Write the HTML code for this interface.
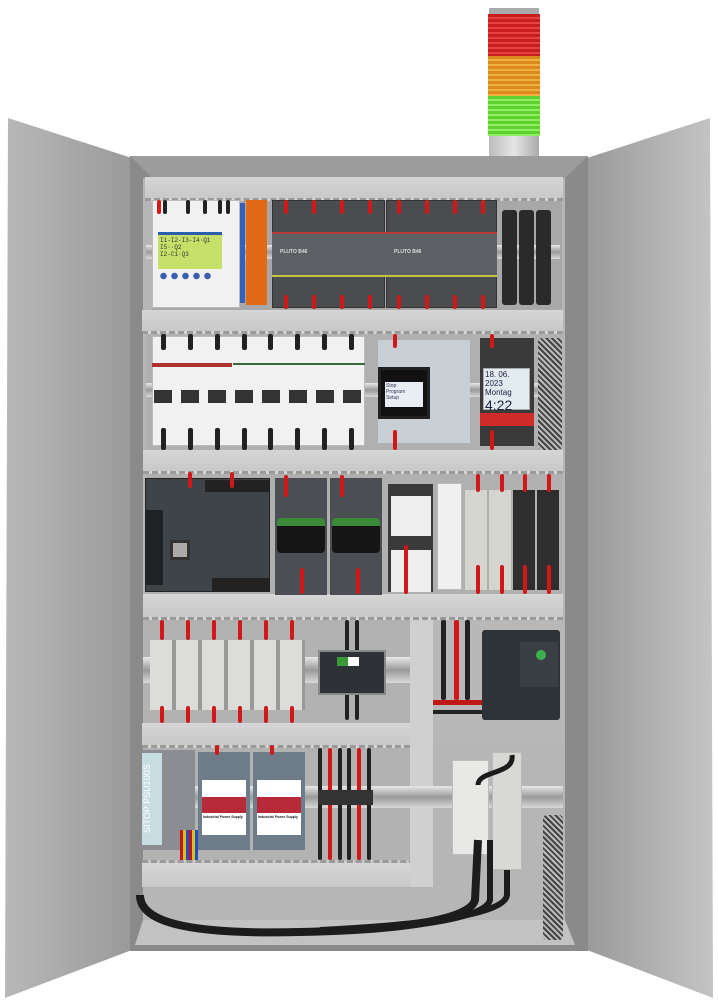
<!DOCTYPE html>
<html><head><meta charset="utf-8"><style>
body{margin:0;background:#fff;width:718px;height:1003px;position:relative;overflow:hidden;font-family:"Liberation Sans",sans-serif}
div{position:absolute;box-sizing:border-box}
.duct{background:linear-gradient(#d6d6d6,#c8c8c8);border-bottom:3px dashed #9a9a9a}
.w{background:#f1f1f1;border:1px solid #bbb}
.rail{background:linear-gradient(#e8e8e8,#9a9a9a,#d8d8d8)}
.cab{background:#222;width:4px;border-radius:2px}
.red{background:#d01818}
</style></head><body>
<!-- signal tower -->
<div style="left:489px;top:8px;width:50px;height:6px;background:#aaa"></div>
<div style="left:488px;top:14px;width:52px;height:42px;background:repeating-linear-gradient(#c81e1e 0 3px,#e84040 3px 5px)"></div>
<div style="left:488px;top:56px;width:52px;height:40px;background:repeating-linear-gradient(#d98a1a 0 3px,#f0b040 3px 5px)"></div>
<div style="left:488px;top:96px;width:52px;height:40px;background:repeating-linear-gradient(#5fd030 0 3px,#8ef060 3px 5px)"></div>
<div style="left:489px;top:136px;width:50px;height:22px;background:linear-gradient(90deg,#bbb,#e6e6e6,#aaa)"></div>
<!-- doors -->
<svg style="position:absolute;left:0;top:0" width="718" height="1003">
<defs><linearGradient id="dl" x1="0" x2="1"><stop offset="0" stop-color="#b8b8b8"/><stop offset="1" stop-color="#9a9a9a"/></linearGradient>
<linearGradient id="dr" x1="0" x2="1"><stop offset="0" stop-color="#9a9a9a"/><stop offset="1" stop-color="#c4c4c4"/></linearGradient></defs>
<polygon points="8,118 132,158 132,950 5,998" fill="url(#dl)"/>
<polygon points="710,118 587,158 587,950 713,998" fill="url(#dr)"/>
<rect x="130" y="156" width="458" height="795" fill="#8a8a8a"/>
<polygon points="130,156 588,156 565,178 152,178" fill="#9c9c9c"/>
<rect x="143" y="178" width="422" height="767" fill="#b6b6b6"/>
<polygon points="143,920 565,920 575,945 135,945" fill="#c2c2c2"/>
<rect x="152" y="200" width="410" height="110" fill="#a8a8a8"/>
</svg>
<!-- ducts -->
<div class="duct" style="left:145px;top:177px;width:418px;height:24px"></div>
<div class="duct" style="left:142px;top:310px;width:421px;height:24px"></div>
<div class="duct" style="left:143px;top:450px;width:420px;height:24px"></div>
<div class="duct" style="left:143px;top:594px;width:420px;height:26px"></div>
<div class="duct" style="left:142px;top:723px;width:268px;height:25px"></div>
<div class="duct" style="left:142px;top:860px;width:291px;height:27px;border-bottom:none;border-top:3px dashed #9a9a9a"></div>
<div style="left:410px;top:620px;width:23px;height:267px;background:#d0d0d0"></div>
<!-- row1 -->
<div class="rail" style="left:146px;top:245px;width:414px;height:14px"></div>
<div class="w" style="left:152px;top:200px;width:88px;height:108px"></div>
<div style="left:158px;top:232px;width:64px;height:37px;background:#c6e06a;border-top:3px solid #2a5fb0;font:6px 'Liberation Mono';color:#333;padding:2px">I1-I2-I3-I4·Q1<br>I5··Q2<br>I2-C1·Q3</div>
<div style="left:158px;top:272px;width:55px;height:8px;background:radial-gradient(circle,#3a5fb0 3px,transparent 3.5px) 0 0/11px 8px"></div>
<div style="left:240px;top:203px;width:5px;height:100px;background:#3460b8"></div>
<div style="left:246px;top:200px;width:21px;height:105px;background:#e06a18"></div>
<div style="left:272px;top:200px;width:113px;height:108px;background:#4a4c4f;border:1px solid #333"></div>
<div style="left:386px;top:200px;width:111px;height:108px;background:#4a4c4f;border:1px solid #333"></div>
<div style="left:272px;top:232px;width:225px;height:45px;background:#5c5f63;border-top:2px solid #b83a3a;border-bottom:2px solid #c8c040"></div>
<div style="left:280px;top:249px;font:bold 5px sans-serif;color:#ddd">PLUTO B46</div>
<div style="left:394px;top:249px;font:bold 5px sans-serif;color:#ddd">PLUTO B46</div>
<div style="left:502px;top:210px;width:15px;height:95px;background:#2a2a2a;border-radius:3px"></div>
<div style="left:519px;top:210px;width:15px;height:95px;background:#2a2a2a;border-radius:3px"></div>
<div style="left:536px;top:210px;width:15px;height:95px;background:#2a2a2a;border-radius:3px"></div>
<!-- row1 cables -->
<div class="cab red" style="left:157px;top:200px;height:14px"></div><div class="cab" style="left:163px;top:200px;height:14px"></div>
<div class="cab" style="left:186px;top:200px;height:14px"></div><div class="cab" style="left:203px;top:200px;height:14px"></div><div class="cab" style="left:218px;top:200px;height:14px"></div><div class="cab" style="left:226px;top:200px;height:14px"></div>
<div class="cab red" style="left:284px;top:200px;height:14px"></div><div class="cab red" style="left:312px;top:200px;height:14px"></div><div class="cab red" style="left:340px;top:200px;height:14px"></div><div class="cab red" style="left:368px;top:200px;height:14px"></div>
<div class="cab red" style="left:397px;top:200px;height:14px"></div><div class="cab red" style="left:425px;top:200px;height:14px"></div><div class="cab red" style="left:453px;top:200px;height:14px"></div><div class="cab red" style="left:481px;top:200px;height:14px"></div>
<div class="cab red" style="left:284px;top:295px;height:14px"></div><div class="cab red" style="left:312px;top:295px;height:14px"></div><div class="cab red" style="left:340px;top:295px;height:14px"></div><div class="cab red" style="left:368px;top:295px;height:14px"></div>
<div class="cab red" style="left:397px;top:295px;height:14px"></div><div class="cab red" style="left:425px;top:295px;height:14px"></div><div class="cab red" style="left:453px;top:295px;height:14px"></div><div class="cab red" style="left:481px;top:295px;height:14px"></div>
<!-- row2 -->
<div style="left:146px;top:334px;width:416px;height:116px;background:#b0b0b0"></div>
<div class="rail" style="left:146px;top:383px;width:414px;height:14px"></div>
<div class="w" style="left:152px;top:336px;width:213px;height:110px"></div>
<div style="left:152px;top:363px;width:80px;height:4px;background:#b03030"></div>
<div style="left:233px;top:363px;width:132px;height:2px;background:#3a6a3a"></div>
<div style="left:154px;top:390px;width:208px;height:13px;background:repeating-linear-gradient(90deg,#333 0 18px,transparent 18px 27px)"></div>
<div class="cab" style="left:161px;top:334px;height:16px;width:5px"></div><div class="cab" style="left:188px;top:334px;height:16px;width:5px"></div><div class="cab" style="left:215px;top:334px;height:16px;width:5px"></div><div class="cab" style="left:242px;top:334px;height:16px;width:5px"></div><div class="cab" style="left:268px;top:334px;height:16px;width:5px"></div><div class="cab" style="left:295px;top:334px;height:16px;width:5px"></div><div class="cab" style="left:322px;top:334px;height:16px;width:5px"></div><div class="cab" style="left:349px;top:334px;height:16px;width:5px"></div>
<div class="cab" style="left:161px;top:428px;height:22px;width:5px"></div><div class="cab" style="left:188px;top:428px;height:22px;width:5px"></div><div class="cab" style="left:215px;top:428px;height:22px;width:5px"></div><div class="cab" style="left:242px;top:428px;height:22px;width:5px"></div><div class="cab" style="left:268px;top:428px;height:22px;width:5px"></div><div class="cab" style="left:295px;top:428px;height:22px;width:5px"></div><div class="cab" style="left:322px;top:428px;height:22px;width:5px"></div><div class="cab" style="left:349px;top:428px;height:22px;width:5px"></div>
<div style="left:378px;top:340px;width:92px;height:103px;background:#c8d0d6"></div>
<div style="left:378px;top:367px;width:52px;height:52px;background:#111;border:3px solid #222"></div>
<div style="left:385px;top:382px;width:38px;height:25px;background:#e8eef4;font:5px sans-serif;color:#335;padding:1px">Stop<br>Program<br>Setup</div>
<div class="cab red" style="left:393px;top:334px;height:14px"></div><div class="cab red" style="left:393px;top:430px;height:20px"></div>
<div style="left:480px;top:338px;width:54px;height:108px;background:#3a3a3a"></div>
<div style="left:483px;top:368px;width:47px;height:42px;background:#e2ebf0;border:1px solid #aaa;font:8px 'Liberation Sans';color:#224;padding:1px">18. 06. 2023<br>Montag<br><span style="font-size:14px">4:22</span></div>
<div style="left:480px;top:413px;width:54px;height:13px;background:#d02a2a"></div>
<div class="cab red" style="left:490px;top:334px;height:14px"></div><div class="cab red" style="left:490px;top:430px;height:20px"></div>
<div style="left:538px;top:338px;width:24px;height:112px;background:repeating-linear-gradient(45deg,#444 0 2px,#bbb 2px 4px);border-radius:4px"></div>
<!-- row3 -->
<div style="left:146px;top:474px;width:416px;height:120px;background:#b0b0b0"></div>
<div style="left:145px;top:478px;width:125px;height:114px;background:#3e4448;border:1px solid #222"></div>
<div style="left:145px;top:510px;width:18px;height:75px;background:#1e2225"></div>
<div style="left:170px;top:540px;width:20px;height:20px;background:#aaa;border:3px solid #333"></div>
<div style="left:205px;top:480px;width:65px;height:12px;background:#222"></div>
<div style="left:212px;top:578px;width:58px;height:14px;background:#222"></div>
<div style="left:275px;top:478px;width:52px;height:117px;background:#4b4f53"></div>
<div style="left:330px;top:478px;width:52px;height:117px;background:#4b4f53"></div>
<div style="left:277px;top:518px;width:48px;height:35px;background:#151515;border-top:8px solid #3a8a3a;border-radius:4px"></div>
<div style="left:332px;top:518px;width:48px;height:35px;background:#151515;border-top:8px solid #3a8a3a;border-radius:4px"></div>
<div style="left:388px;top:484px;width:45px;height:108px;background:#3a3a3a"></div>
<div style="left:391px;top:496px;width:40px;height:40px;background:#eee"></div>
<div style="left:391px;top:550px;width:40px;height:42px;background:#eee"></div>
<div style="left:437px;top:483px;width:25px;height:107px;background:#f0f0f0;border:1px solid #bbb"></div>
<div style="left:465px;top:490px;width:22px;height:100px;background:#d6d6d0"></div>
<div style="left:489px;top:490px;width:22px;height:100px;background:#d6d6d0"></div>
<div style="left:513px;top:490px;width:22px;height:100px;background:#2e2e2e"></div>
<div style="left:537px;top:490px;width:22px;height:100px;background:#2e2e2e"></div>
<div class="cab red" style="left:188px;top:472px;height:16px"></div><div class="cab red" style="left:230px;top:472px;height:16px"></div>
<div class="cab red" style="left:284px;top:475px;height:22px"></div><div class="cab red" style="left:340px;top:475px;height:22px"></div>
<div class="cab red" style="left:300px;top:568px;height:26px"></div><div class="cab red" style="left:356px;top:568px;height:26px"></div>
<div class="cab red" style="left:404px;top:545px;height:49px"></div>
<div class="cab red" style="left:476px;top:474px;height:18px"></div><div class="cab red" style="left:500px;top:474px;height:18px"></div><div class="cab red" style="left:523px;top:474px;height:18px"></div><div class="cab red" style="left:547px;top:474px;height:18px"></div>
<div class="cab red" style="left:476px;top:565px;height:29px"></div><div class="cab red" style="left:500px;top:565px;height:29px"></div><div class="cab red" style="left:523px;top:565px;height:29px"></div><div class="cab red" style="left:547px;top:565px;height:29px"></div>
<!-- row4 -->
<div style="left:143px;top:620px;width:267px;height:103px;background:#b2b2b2"></div>
<div class="rail" style="left:143px;top:657px;width:267px;height:26px"></div>
<div style="left:150px;top:640px;width:155px;height:70px;background:repeating-linear-gradient(90deg,#dcdcd8 0 22px,#999 22px 26px)"></div>
<div class="cab" style="left:345px;top:620px;height:100px"></div><div class="cab" style="left:355px;top:620px;height:100px"></div>
<div style="left:318px;top:650px;width:68px;height:45px;background:#2e3236;border:2px solid #888"></div>
<div style="left:337px;top:657px;width:22px;height:9px;background:linear-gradient(90deg,#3a9a3a 50%,#fff 50%)"></div>
<div style="left:433px;top:620px;width:130px;height:125px;background:#b8b8b8"></div>
<div class="cab" style="left:441px;top:620px;height:80px;width:5px"></div><div class="cab red" style="left:454px;top:620px;height:80px;width:5px"></div><div class="cab" style="left:465px;top:620px;height:80px;width:5px"></div>
<div style="left:433px;top:700px;width:80px;height:5px;background:#c01818"></div>
<div style="left:433px;top:710px;width:120px;height:4px;background:#222"></div>
<div style="left:482px;top:630px;width:78px;height:90px;background:#2e3338;border-radius:3px"></div>
<div style="left:520px;top:642px;width:38px;height:45px;background:#3a3f44"></div>
<div style="left:536px;top:650px;width:10px;height:10px;background:#3ab050;border-radius:50%"></div>
<div class="cab red" style="left:160px;top:620px;height:20px"></div><div class="cab red" style="left:186px;top:620px;height:20px"></div><div class="cab red" style="left:212px;top:620px;height:20px"></div><div class="cab red" style="left:238px;top:620px;height:20px"></div><div class="cab red" style="left:264px;top:620px;height:20px"></div><div class="cab red" style="left:290px;top:620px;height:20px"></div>
<div class="cab red" style="left:160px;top:706px;height:17px"></div><div class="cab red" style="left:186px;top:706px;height:17px"></div><div class="cab red" style="left:212px;top:706px;height:17px"></div><div class="cab red" style="left:238px;top:706px;height:17px"></div><div class="cab red" style="left:264px;top:706px;height:17px"></div><div class="cab red" style="left:290px;top:706px;height:17px"></div>
<!-- row5 -->
<div style="left:143px;top:748px;width:267px;height:112px;background:#b2b2b2"></div>
<div class="rail" style="left:143px;top:786px;width:420px;height:22px"></div>
<div style="left:142px;top:750px;width:53px;height:100px;background:#8a8e92"></div>
<div style="left:142px;top:753px;width:20px;height:92px;background:#c8dde2;color:#fff;font:9px sans-serif;writing-mode:vertical-rl;transform:rotate(180deg);text-align:center">SITOP PSU100S</div>
<div style="left:198px;top:752px;width:52px;height:98px;background:#6e7b88"></div>
<div style="left:253px;top:752px;width:52px;height:98px;background:#6e7b88"></div>
<div style="left:202px;top:780px;width:44px;height:55px;background:#fff"></div>
<div style="left:257px;top:780px;width:44px;height:55px;background:#fff"></div>
<div style="left:202px;top:797px;width:44px;height:16px;background:#b82a3a"></div>
<div style="left:257px;top:797px;width:44px;height:16px;background:#b82a3a"></div>
<div style="left:203px;top:815px;font:bold 3.5px sans-serif;color:#222">Industrial Power Supply</div>
<div style="left:258px;top:815px;font:bold 3.5px sans-serif;color:#222">Industrial Power Supply</div>
<div class="cab" style="left:318px;top:748px;height:112px"></div><div class="cab red" style="left:328px;top:748px;height:112px"></div><div class="cab" style="left:338px;top:748px;height:112px"></div><div class="cab" style="left:347px;top:748px;height:112px"></div><div class="cab red" style="left:357px;top:748px;height:112px"></div><div class="cab" style="left:367px;top:748px;height:112px"></div>
<div style="left:318px;top:790px;width:55px;height:15px;background:#333"></div>
<div class="cab red" style="left:215px;top:745px;height:10px"></div><div class="cab red" style="left:270px;top:745px;height:10px"></div>
<div style="left:180px;top:830px;width:18px;height:30px;background:repeating-linear-gradient(90deg,#c01818 0 3px,#d8c020 3px 6px,#2050c0 6px 9px)"></div>
<div style="left:452px;top:760px;width:37px;height:95px;background:#e8e8e6;border:1px solid #bbb"></div>
<div style="left:492px;top:752px;width:30px;height:118px;background:#d8d8d4;border:1px solid #bbb"></div>
<div style="left:543px;top:815px;width:20px;height:125px;background:repeating-linear-gradient(45deg,#444 0 2px,#bbb 2px 4px);border-radius:4px"></div>
<!-- bottom cable -->
<svg style="position:absolute;left:0;top:0" width="718" height="1003">
<path d="M140,895 C140,920 180,935 300,932 C400,930 470,920 475,900 L478,840" stroke="#1c1c1c" stroke-width="8" fill="none"/>
<path d="M300,932 C400,930 485,920 490,900 L490,840" stroke="#1c1c1c" stroke-width="6" fill="none"/>
<path d="M320,930 C420,925 505,915 507,895 L507,870" stroke="#1c1c1c" stroke-width="6" fill="none"/>
<path d="M478,785 C478,770 515,775 512,755" stroke="#1c1c1c" stroke-width="5" fill="none"/>
</svg>
</body></html>
